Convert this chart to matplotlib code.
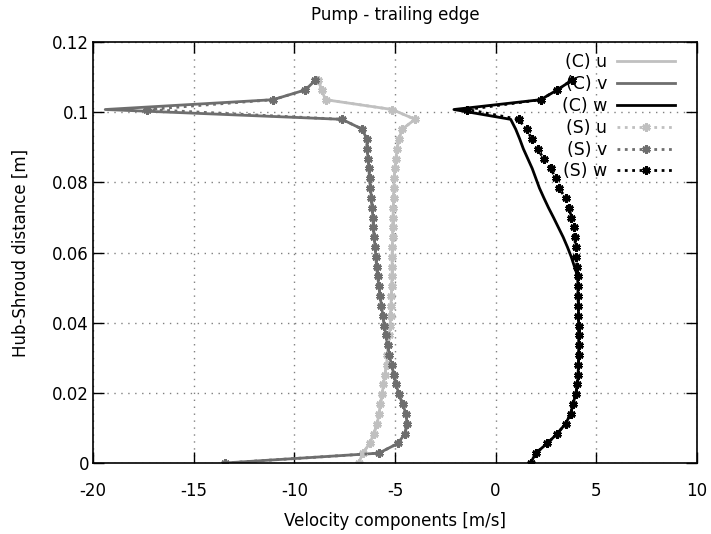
import numpy as np
import matplotlib
matplotlib.use("Agg")
import matplotlib.pyplot as plt

# ####################################################################
# data (hub-shroud distance vs velocity components)

y_s = np.arange(40) * 0.0028  # S sample positions [m]

u_s = [-6.8, -6.6, -6.25, -6.05, -5.88, -5.8, -5.72, -5.64, -5.57, -5.5,
       -5.42, -5.38, -5.33, -5.28, -5.24, -5.22, -5.2, -5.18, -5.16, -5.15,
       -5.14, -5.14, -5.13, -5.12, -5.11, -5.1, -5.08, -5.07, -5.06, -5.04,
       -5.0, -4.95, -4.9, -4.8, -4.64, -4.0, -5.14, -8.45, -8.65, -8.8]

v_s = [-13.45, -5.8, -4.85, -4.5, -4.4, -4.45, -4.62, -4.8, -4.95, -5.05,
       -5.17, -5.28, -5.37, -5.45, -5.53, -5.6, -5.67, -5.74, -5.8, -5.86,
       -5.91, -5.95, -5.99, -6.03, -6.07, -6.1, -6.13, -6.17, -6.22, -6.26,
       -6.3, -6.34, -6.38, -6.4, -6.63, -7.63, -17.3, -11.06, -9.45, -8.95]

w_s = [1.74, 2.0, 2.57, 3.07, 3.48, 3.73, 3.85, 3.98, 4.07, 4.1,
       4.12, 4.13, 4.13, 4.13, 4.13, 4.12, 4.12, 4.1, 4.09, 4.08,
       4.05, 4.0, 3.98, 3.93, 3.9, 3.77, 3.65, 3.48, 3.15, 2.99,
       2.74, 2.39, 2.09, 1.8, 1.54, 1.14, -1.4, 2.24, 3.07, 3.8]

# C curves (same positions)
y_c = y_s
u_c = list(u_s)
v_c = v_s[:36] + [-19.4] + v_s[37:]
w_c = w_s[:20] + [3.92, 3.76, 3.57, 3.36, 3.12, 2.88, 2.63, 2.4, 2.18, 2.0,
                  1.82, 1.6, 1.38, 1.2, 1.0, 0.75, -2.07, 2.24, 3.07, 3.8]

light = '#c0c0c0'
mid = '#6e6e6e'
dark = '#000000'

# ####################################################################
plt.rcParams['font.family'] = ['DejaVu Sans']
plt.rcParams['axes.unicode_minus'] = False
fig = plt.figure(figsize=(7.11, 5.34), dpi=100)
ax = fig.add_axes([0.131, 0.133, 0.849, 0.788])

ax.plot(u_c, y_c, '-', color=light, lw=2, label='(C) u')
ax.plot(v_c, y_c, '-', color=mid, lw=2, label='(C) v')
ax.plot(w_c, y_c, '-', color=dark, lw=2, label='(C) w')

mk = (6, 2, 0)
ax.plot(u_s, y_s, ':', color=light, lw=2, marker=mk, ms=6, mew=2, label='(S) u')
ax.plot(v_s, y_s, ':', color=mid, lw=2, marker=mk, ms=6, mew=2, label='(S) v')
ax.plot(w_s, y_s, ':', color=dark, lw=2, marker=mk, ms=6, mew=2, label='(S) w')

ax.set_xlim(-20, 10)
ax.set_ylim(0, 0.12)
ax.set_xticks(np.arange(-20, 11, 5))
ax.set_yticks(np.arange(0, 0.121, 0.02))
ax.set_yticklabels(['0', '0.02', '0.04', '0.06', '0.08', '0.1', '0.12'])
ax.tick_params(direction='in', length=8, width=1, top=True, right=True,
               labelsize=12)
ax.tick_params(axis='x', pad=14)
ax.tick_params(axis='y', pad=3)
ax.grid(True, linestyle=(0, (1, 4)), color='#808080', lw=1)
for s in ax.spines.values():
    s.set_linewidth(1.2)

ax.set_xlabel("Velocity components [m/s]", fontsize=12, labelpad=8)
ax.set_ylabel("Hub-Shroud distance [m]", fontsize=12, labelpad=16)
ax.set_title("Pump - trailing edge", fontsize=12, pad=16)

leg = ax.legend(loc='upper right', frameon=False, markerfirst=False,
                handlelength=3.3, fontsize=12.5, labelspacing=0.22,
                handletextpad=0.6, borderaxespad=0.0,
                bbox_to_anchor=(0.975, 0.99))

plt.savefig("out.png")
